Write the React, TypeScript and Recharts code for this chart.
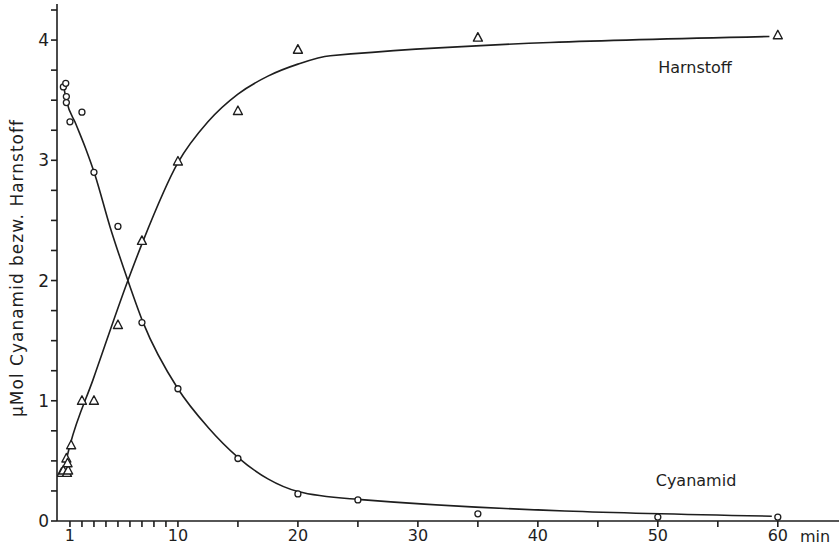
import { ComposedChart, Line, Scatter, XAxis, YAxis } from 'recharts';

// minutes vs. µMol
const cyanTimes = [0.45, 0.65, 0.7, 0.7, 1, 2, 3, 5, 7, 10, 15, 20, 25, 35, 50, 60];
const cyanValues = [3.61, 3.64, 3.53, 3.48, 3.32, 3.4, 2.9, 2.45, 1.65, 1.1, 0.52, 0.225, 0.175, 0.06, 0.033, 0.033];

const harnTimes = [0.3, 0.45, 0.75, 0.85, 0.7, 0.8, 1.1, 2, 3, 5, 7, 10, 15, 20, 35, 60];
const harnValues = [0.4, 0.42, 0.4, 0.42, 0.52, 0.48, 0.63, 1.0, 1.0, 1.63, 2.33, 2.99, 3.41, 3.92, 4.02, 4.04];

// hand-drawn fit curves
const cyanCurveX = [0.45, 0.7, 1.5, 2.3, 3.08, 4.33, 5.83, 7.1, 10, 12.5, 15, 17.5, 20, 25, 59.5];
const cyanCurveY = [3.63, 3.5, 3.3, 3.1, 2.88, 2.45, 2.0, 1.65, 1.1, 0.78, 0.53, 0.35, 0.245, 0.18, 0.04];

const harnCurveX = [0.6, 1, 2.94, 5.83, 7.1, 10, 12.5, 15, 17.5, 20, 22.7, 59.3];
const harnCurveY = [0.47, 0.63, 1.18, 2.0, 2.33, 2.98, 3.32, 3.55, 3.7, 3.8, 3.87, 4.03];

const xTicks = [1, 2, 3, 4, 5, 6, 7, 8, 9, 10, 15, 20, 25, 30, 35, 40, 45, 50, 55, 60];
const xLabels = [1, 10, 20, 30, 40, 50, 60];
const yTicks = [0, 0.25, 0.5, 0.75, 1, 1.25, 1.5, 1.75, 2, 2.25, 2.5, 2.75, 3, 3.25, 3.5, 3.75, 4, 4.25];

const ink = '#1e1e1e';
const font = '"DejaVu Sans", sans-serif';

const zip = (xs: number[], ys: number[]) => xs.map((x, i) => ({ x, y: ys[i] }));

const cyanPoints = zip(cyanTimes, cyanValues);
const harnPoints = zip(harnTimes, harnValues);
const cyanCurve = zip(cyanCurveX, cyanCurveY);
const harnCurve = zip(harnCurveX, harnCurveY);

function CircleMark(props: any) {
  const { cx, cy } = props;
  return <circle cx={cx} cy={cy} r={3} fill="#fff" stroke={ink} strokeWidth={1.3} />;
}

function TriangleMark(props: any) {
  const { cx, cy } = props;
  const d = `M${cx},${cy - 5} L${cx - 4.5},${cy + 3.5} L${cx + 4.5},${cy + 3.5} Z`;
  return <path d={d} fill="#fff" stroke={ink} strokeWidth={1.4} strokeLinejoin="round" />;
}

function XTick(props: any) {
  const { x, y, payload } = props;
  if (!xLabels.includes(payload.value)) return null;
  return (
    <text x={x} y={y} dy="0.75em" textAnchor="middle" fill={ink} fontSize={16} fontFamily={font}>
      {payload.value}
    </text>
  );
}

function YTick(props: any) {
  const { x, y, payload } = props;
  if (!Number.isInteger(payload.value)) return null;
  return (
    <text x={x} y={y} dy="0.36em" textAnchor="end" fill={ink} fontSize={17} fontFamily={font}>
      {payload.value}
    </text>
  );
}

export default function App() {
  return (
    <div style={{ width: 839, height: 552, background: '#fff' }}>
      <style>{'body{margin:0}'}</style>
      <ComposedChart width={839} height={552} margin={{ top: 4, right: 0, bottom: 0, left: 0 }}>
        <XAxis
          type="number"
          dataKey="x"
          domain={[-0.08, 65.1]}
          ticks={xTicks}
          interval={0}
          allowDataOverflow
          height={31}
          tickSize={6}
          tick={<XTick />}
          stroke={ink}
          strokeWidth={1.6}
        />
        <YAxis
          type="number"
          dataKey="y"
          domain={[0, 4.3]}
          ticks={yTicks}
          interval={0}
          allowDataOverflow
          width={57}
          tickSize={6}
          tick={<YTick />}
          stroke={ink}
          strokeWidth={1.6}
        />
        <Line data={cyanCurve} dataKey="y" type="monotone" stroke={ink} strokeWidth={1.6} dot={false} activeDot={false} isAnimationActive={false} />
        <Line data={harnCurve} dataKey="y" type="monotone" stroke={ink} strokeWidth={1.6} dot={false} activeDot={false} isAnimationActive={false} />
        <Scatter data={cyanPoints} dataKey="y" shape={<CircleMark />} isAnimationActive={false} />
        <Scatter data={harnPoints} dataKey="y" shape={<TriangleMark />} isAnimationActive={false} />
        <text x={695} y={67} textAnchor="middle" dominantBaseline="central" fill={ink} fontSize={16} fontFamily={font}>
          Harnstoff
        </text>
        <text x={696} y={480} textAnchor="middle" dominantBaseline="central" fill={ink} fontSize={16} fontFamily={font}>
          Cyanamid
        </text>
        <text x={815} y={536} textAnchor="middle" dominantBaseline="central" fill={ink} fontSize={16} fontFamily={font}>
          min
        </text>
        <text
          x={17}
          y={268}
          transform="rotate(-90 17 268)"
          textAnchor="middle"
          dominantBaseline="central"
          fill={ink}
          fontSize={17}
          letterSpacing={1}
          fontFamily={font}
        >
          µMol Cyanamid bezw. Harnstoff
        </text>
      </ComposedChart>
    </div>
  );
}
